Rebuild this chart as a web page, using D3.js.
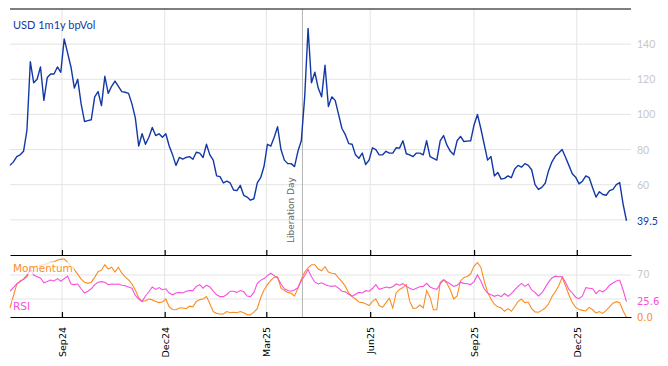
<!DOCTYPE html>
<html>
<head>
<meta charset="utf-8">
<script src="https://cdn.jsdelivr.net/npm/d3@7"></script>
<style>
  body { margin: 0; background: #fff; }
  svg { display: block; }
</style>
</head>
<body>
<div id="chart"></div>
<script>
// one observation every 3 calendar days, starting mid July 2024
const startDate = new Date(2024, 6, 17);
const stepDays = 3;

const bpVol = [71, 73, 76, 77, 79, 91, 130, 118, 120, 127, 108, 121, 123, 123, 127, 124, 143, 135, 127, 115,
  120, 106, 96, 96.5, 97, 110, 113, 105, 121.7, 112, 116, 119, 116, 113, 112.6, 112, 106, 98, 82, 89,
  83, 87, 92.6, 88, 89, 87, 89, 82, 77, 71, 75.5, 74.6, 75.5, 76, 74.5, 78.5, 78, 75.5, 83, 77,
  74, 65, 64.6, 61, 62, 61, 57, 56.6, 59.6, 54, 53, 51.2, 52, 61, 64, 70.5, 83, 82, 87, 93,
  80, 74, 72, 72, 70.3, 79, 85, 110, 149, 118, 124, 115, 110, 128, 104.5, 110, 108, 100, 92, 88.5,
  83.4, 83, 77, 75, 78, 71.5, 74, 81, 80, 77, 77, 79, 78, 78, 81, 80.8, 85, 77.6, 77, 76,
  78, 78, 77, 85, 76, 75, 74, 85, 88, 82.5, 79, 77, 85, 87.5, 84.6, 84.8, 85, 94, 100, 92,
  83, 74, 76, 65, 67, 63.2, 63.6, 65, 64, 69, 71, 70, 72, 71, 68.5, 60, 57.3, 58.5, 60.8, 68,
  73, 76.3, 78, 80, 75.6, 71, 66.3, 64.3, 60.5, 62, 65, 64, 58.3, 53, 56, 54.4, 54, 56.6, 57.3, 60,
  61.2, 49, 39.5];

const momentum = [15, 35, 55, 60, 63, 67, 81, 84, 85, 86, 87, 89, 91, 92, 95, 96, 97, 91, 85, 79,
  71, 63, 58, 56, 58, 66, 75.5, 78, 87, 80, 83, 75, 83, 73, 67, 62, 55, 45, 32, 26,
  27, 30, 28.5, 26, 24, 25, 30, 17, 12.5, 12, 15, 15, 14, 18, 17, 26, 29, 30, 34, 22,
  9, 6, 5, 5, 9, 7, 8, 7, 9, 7, 4, 3.5, 8, 14, 32, 45, 54, 61, 66, 67,
  48, 44, 41, 39.5, 35, 48, 63, 75, 82, 87, 87, 80, 77, 84, 75, 73, 72, 65, 59, 51,
  40, 34, 30, 25, 24, 22, 19, 26, 30, 19, 16, 24, 31, 15, 40, 46, 49, 54, 26, 14.5,
  15, 20, 15, 44, 33, 12, 12, 58, 62, 56, 45, 30, 35, 60, 66, 67.5, 72, 85, 90.5, 83,
  60, 41, 30, 21, 17, 15, 9.5, 14, 9.5, 17, 26, 29.5, 24, 25, 14, 8.5, 8, 11, 15, 22,
  34, 42, 52, 66, 52, 37, 24, 16, 12.5, 11, 10, 16, 12, 6.5, 9, 6, 11, 17, 23, 25.5,
  24, 10, 0];

const rsi = [43, 49, 55, 59, 63, 70, 80, 70, 67, 65, 57, 59, 61.5, 60, 64, 59.5, 64, 68, 55, 54,
  55, 47, 40, 43, 47, 54, 58, 59, 58, 54, 55, 54.5, 55, 53, 52, 50, 48, 36, 30, 26,
  35, 42, 50, 46, 49, 45.5, 47, 40, 37, 40, 41, 40, 43, 44, 44, 51, 54, 48, 53, 50,
  43, 37, 34, 34, 37.5, 43, 43, 41, 44, 42, 35, 34, 41, 56, 61, 64, 69, 73, 69, 65,
  55, 47, 44, 43, 45, 49, 60, 69, 79, 67, 58, 55, 57, 54, 52, 51, 52, 48, 43, 42,
  38, 34.5, 38, 41, 40, 44, 43, 47.5, 54, 46, 48, 50, 48.5, 50.5, 55, 53, 55.5, 51, 48, 45.5,
  48, 50.5, 51, 56, 50, 47.5, 46, 55, 62, 58.5, 55, 51, 53, 58, 56, 55.5, 54, 59, 70, 60,
  47, 40, 37, 34.5, 36.5, 34, 39, 34.5, 39, 45, 51, 56, 51, 55, 45, 41, 35, 40, 49, 58,
  65, 68, 67, 67.5, 58, 46, 40, 33, 30.5, 35, 49, 48, 47, 39, 44.5, 42, 46, 53, 56.5, 60,
  61.5, 45, 25.6];

const tickDates = ['2024-09-01', '2024-12-01', '2025-03-01', '2025-06-01', '2025-09-01', '2025-12-01'];
const tickLabels = ['Sep24', 'Dec24', 'Mar25', 'Jun25', 'Sep25', 'Dec25'];
const volTicks = [40, 60, 80, 100, 120, 140];
const oscTicks = [30, 70];
const eventDate = '2025-04-02';
const eventLabel = 'Liberation Day';

const width = 668;
const height = 366;
const left = 10, right = 631;
const topY = 9, midY = 255, botY = 317;

const blue = '#1238a6';
const orange = '#fb8d1f';
const pink = '#f650dc';
const gridColor = '#e4e4e4';
const labelFont = 'Lato, "Open Sans", sans-serif';
const plainFont = '"DejaVu Sans", sans-serif';

const parse = d3.timeParse('%Y-%m-%d');
const dates = bpVol.map((d, i) => d3.timeDay.offset(startDate, i * stepDays));

const svg = d3.select('#chart')
  .append('svg')
  .attr('width', width)
  .attr('height', height);

const x = d3.scaleTime()
  .domain([new Date(2024, 6, 17), new Date(2026, 0, 18)])
  .range([left, right]);

const yVol = d3.scaleLinear().domain([20, 160]).range([midY, topY]);
const yOsc = d3.scaleLinear().domain([0, 103.3]).range([botY, midY]);

const ticks = tickDates.map(parse);
const lastVol = bpVol[bpVol.length - 1];
const lastMom = momentum[momentum.length - 1];
const lastRsi = rsi[rsi.length - 1];

// grid
svg.append('g')
  .selectAll('line')
  .data(ticks)
  .enter()
  .append('line')
  .attr('x1', d => x(d)).attr('x2', d => x(d))
  .attr('y1', topY).attr('y2', botY)
  .attr('stroke', gridColor);

svg.append('g')
  .selectAll('line')
  .data(volTicks)
  .enter()
  .append('line')
  .attr('x1', left).attr('x2', right)
  .attr('y1', d => yVol(d)).attr('y2', d => yVol(d))
  .attr('stroke', gridColor);

svg.append('g')
  .selectAll('line')
  .data(oscTicks)
  .enter()
  .append('line')
  .attr('x1', left).attr('x2', right)
  .attr('y1', d => yOsc(d)).attr('y2', d => yOsc(d))
  .attr('stroke', gridColor);

// event marker
const ex = x(parse(eventDate));
svg.append('line')
  .attr('x1', ex).attr('x2', ex)
  .attr('y1', topY).attr('y2', botY)
  .attr('stroke', '#b4b4b4');

svg.append('text')
  .attr('transform', `translate(${ex - 8.5},243) rotate(-90)`)
  .style('font-family', plainFont)
  .style('font-size', '9px')
  .style('fill', '#666')
  .text(eventLabel);

// lines
const volLine = d3.line().x((d, i) => x(dates[i])).y(d => yVol(d));
const oscLine = d3.line().x((d, i) => x(dates[i])).y(d => yOsc(d));

svg.append('path')
  .attr('d', volLine(bpVol))
  .attr('fill', 'none')
  .attr('stroke', blue)
  .attr('stroke-width', 1.4)
  .attr('stroke-linejoin', 'round');

svg.append('path')
  .attr('d', oscLine(momentum))
  .attr('fill', 'none')
  .attr('stroke', orange)
  .attr('stroke-width', 1.1);

svg.append('path')
  .attr('d', oscLine(rsi))
  .attr('fill', 'none')
  .attr('stroke', pink)
  .attr('stroke-width', 1.1);

// text with a white box behind it
function boxedText(px, py, str, color, font, size, opacity, baseline) {
  const g = svg.append('g');
  const t = g.append('text')
    .attr('x', px).attr('y', py)
    .attr('dominant-baseline', baseline || 'auto')
    .style('font-family', font)
    .style('font-size', size + 'px')
    .style('fill', color)
    .text(str);
  const b = t.node().getBBox();
  g.insert('rect', 'text')
    .attr('x', b.x - 1).attr('y', b.y)
    .attr('width', b.width + 2).attr('height', b.height)
    .attr('fill', '#fff')
    .attr('fill-opacity', opacity);
}

// right hand labels (the ones under the last-value labels are hidden)
svg.append('g')
  .selectAll('text')
  .data(volTicks.filter(d => Math.abs(yVol(d) - yVol(lastVol)) > 10))
  .enter()
  .append('text')
  .attr('x', 637)
  .attr('y', d => yVol(d))
  .attr('dominant-baseline', 'central')
  .style('font-family', labelFont)
  .style('font-size', '10.5px')
  .style('fill', '#c8c8c8')
  .text(d => d);

svg.append('g')
  .selectAll('text')
  .data(oscTicks.filter(d => Math.abs(yOsc(d) - yOsc(lastRsi)) > 10 && Math.abs(yOsc(d) - yOsc(lastMom)) > 10))
  .enter()
  .append('text')
  .attr('x', 637)
  .attr('y', d => yOsc(d))
  .attr('dominant-baseline', 'central')
  .style('font-family', plainFont)
  .style('font-size', '10px')
  .style('fill', '#c8c8c8')
  .text(d => d);

boxedText(637, yVol(lastVol), d3.format('.1f')(lastVol), blue, labelFont, 10.5, 1, 'central');
boxedText(637, yOsc(lastRsi), d3.format('.1f')(lastRsi), pink, plainFont, 10, 0.8, 'central');
boxedText(637, yOsc(lastMom), d3.format('.1f')(lastMom), orange, plainFont, 10, 0.8, 'central');

// panel titles
svg.append('text')
  .attr('x', 13).attr('y', 29)
  .style('font-family', labelFont)
  .style('font-size', '11px')
  .style('fill', blue)
  .text('USD 1m1y bpVol');

boxedText(13, 272, 'Momentum', orange, plainFont, 10.5, 0.7);
boxedText(13, 310, 'RSI', pink, plainFont, 10.5, 0.7);

// frame and axes
svg.append('line')
  .attr('x1', left).attr('x2', right)
  .attr('y1', topY).attr('y2', topY)
  .attr('stroke', '#000')
  .attr('stroke-width', 1.2);

svg.append('g')
  .attr('transform', `translate(0,${midY})`)
  .call(d3.axisBottom(x).tickValues(ticks).tickSize(-5).tickSizeOuter(0).tickFormat(''))
  .call(g => g.selectAll('path, line').attr('stroke', '#000').attr('stroke-width', 1.2));

const xAxis = svg.append('g')
  .attr('transform', `translate(0,${botY})`)
  .call(d3.axisBottom(x).tickValues(ticks).tickSize(-5).tickSizeOuter(0)
    .tickFormat((d, i) => tickLabels[i]));

xAxis.selectAll('path, line').attr('stroke', '#000').attr('stroke-width', 1.2);
xAxis.selectAll('text')
  .attr('transform', 'rotate(-90)')
  .attr('x', -10)
  .attr('y', 0)
  .attr('dy', '0.35em')
  .style('text-anchor', 'end')
  .style('font-family', plainFont)
  .style('font-size', '9.5px')
  .style('fill', '#000');
</script>
</body>
</html>
